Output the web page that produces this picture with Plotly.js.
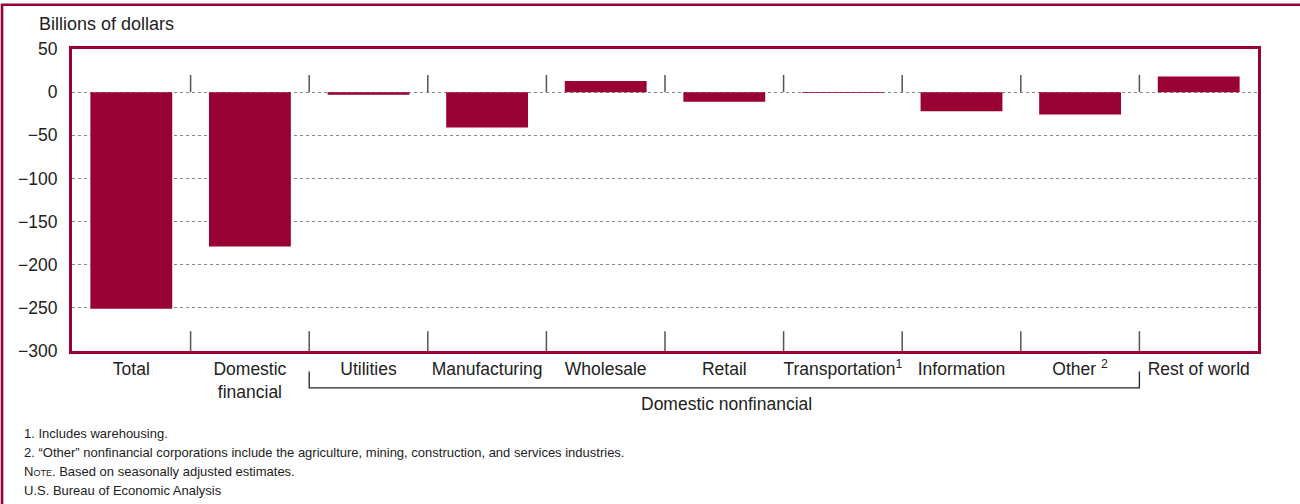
<!DOCTYPE html>
<html>
<head>
<meta charset="utf-8">
<script src="https://cdn.plot.ly/plotly-3.0.1.min.js"></script>
<style>
html,body{margin:0;padding:0;background:#fff;}
#chart{width:1300px;height:504px;}
</style>
</head>
<body>
<div id="chart"></div>
<script>
// ---- data ----
const categories = ["Total", "Domestic<br>financial", "Utilities", "Manufacturing", "Wholesale", "Retail", "Transportation<sup>1</sup>", "Information", "Other <sup>2</sup>", "Rest of world"];
const values = [-251, -179, -3, -41, 13, -11, -1, -22, -26, 18];
const yTickVals = [50, 0, -50, -100, -150, -200, -250, -300];
const unitLabel = "Billions of dollars";
const groupLabel = "Domestic nonfinancial";
const footnotes = [
  "1. Includes warehousing.",
  "2. \u201cOther\u201d nonfinancial corporations include the agriculture, mining, construction, and services industries.",
  "N<span style=\"font-size:9px\">OTE</span>. Based on seasonally adjusted estimates.",
  "U.S. Bureau of Economic Analysis"
];

// ---- layout helpers ----
const W = 1300, H = 504;
const M = {l: 71.5, r: 42, t: 49, b: 152.5};
const pw = W - M.l - M.r, ph = H - M.t - M.b;
const px2x = p => (p - M.l) / pw;
const py2y = p => (H - M.b - p) / ph;
const RED = "#990033";
const FONT = "Liberation Sans, Arial, sans-serif";

const shapes = [];
// category separator ticks (top and bottom inside the frame)
for (let i = 0; i < categories.length - 1; i++) {
  const xb = i + 0.5;
  shapes.push({type: "line", xref: "x", yref: "y", x0: xb, x1: xb, y0: 0, y1: 20,
    line: {color: "#555", width: 1.5}});
  shapes.push({type: "line", xref: "x", yref: "y", x0: xb, x1: xb, y0: -300, y1: -277,
    line: {color: "#555", width: 1.5}});
}
// bracket under domestic nonfinancial group
const ya = py2y(372), yb = py2y(388.5);
shapes.push({type: "path", xref: "x", yref: "paper",
  path: `M 1.5,${ya} L 1.5,${yb} L 8.5,${yb} L 8.5,${ya}`,
  line: {color: "#222", width: 1.3}});
// outer frame
shapes.push({type: "rect", xref: "paper", yref: "paper",
  x0: px2x(1.5), x1: px2x(1330), y0: py2y(4.7), y1: py2y(540),
  line: {color: RED, width: 2.6}, layer: "above"});

const annotations = [
  {text: unitLabel, xref: "paper", yref: "paper", x: px2x(36), y: py2y(24),
   xanchor: "left", yanchor: "middle", showarrow: false,
   font: {family: FONT, size: 18, color: "#222"}},
  {text: groupLabel, xref: "paper", yref: "paper", x: px2x(726), y: py2y(405),
   xanchor: "center", yanchor: "middle", showarrow: false,
   font: {family: FONT, size: 17.5, color: "#222"}}
];
const fnY = [434, 453, 472, 491];
footnotes.forEach((t, i) => annotations.push({
  text: t, xref: "paper", yref: "paper", x: px2x(21), y: py2y(fnY[i]),
  xanchor: "left", yanchor: "middle", showarrow: false,
  font: {family: FONT, size: 13, color: "#222"}
}));

const trace = {
  type: "bar", x: categories, y: values, width: 0.69,
  marker: {color: RED, line: {width: 0}},
  hoverinfo: "x+y"
};

const layout = {
  width: W, height: H,
  margin: M,
  paper_bgcolor: "#fff", plot_bgcolor: "#fff",
  showlegend: false,
  bargap: 0.31,
  font: {family: FONT, size: 17.5, color: "#222"},
  xaxis: {
    type: "category", showgrid: false, zeroline: false,
    showline: true, mirror: true, linecolor: RED, linewidth: 3,
    ticks: "", tickfont: {family: FONT, size: 17.5, color: "#222"},
    range: [-0.5, categories.length - 0.5], fixedrange: true
  },
  yaxis: {
    range: [-300, 50], tickvals: yTickVals,
    showgrid: true, gridcolor: "#888", griddash: "dot", gridwidth: 1,
    zeroline: false,
    showline: true, mirror: true, linecolor: RED, linewidth: 3,
    ticks: "", ticklabelstandoff: 8,
    tickfont: {family: FONT, size: 17.5, color: "#222"}, fixedrange: true
  },
  shapes: shapes,
  annotations: annotations
};

Plotly.newPlot("chart", [trace], layout, {displayModeBar: false, staticPlot: true});
</script>
</body>
</html>
